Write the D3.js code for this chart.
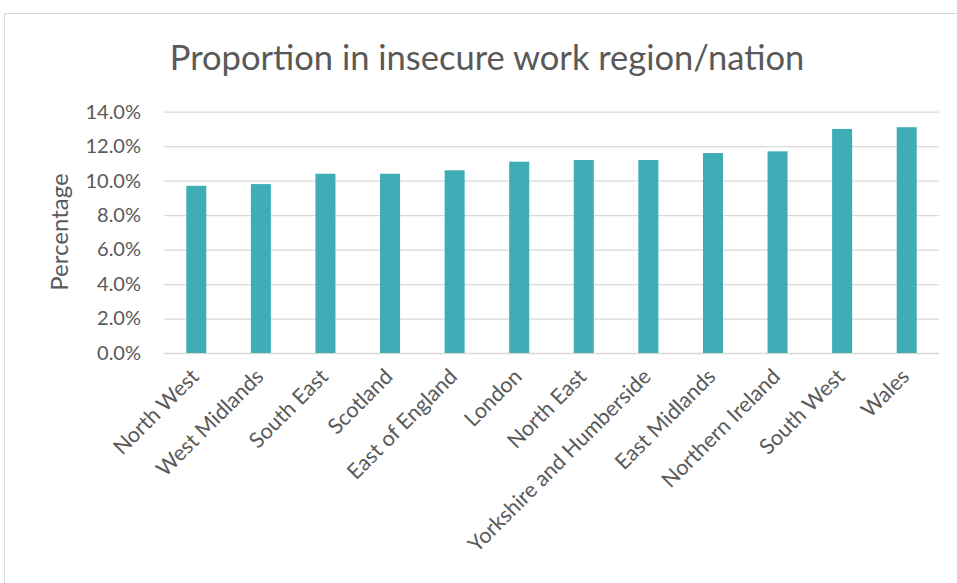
<!DOCTYPE html>
<html>
<head>
<meta charset="utf-8">
<script src="https://cdn.jsdelivr.net/npm/d3@7"></script>
<style>
  body { margin: 0; background: #fff; }
  text { font-family: Lato, "Open Sans", sans-serif; fill: #595959; }
</style>
</head>
<body>
<svg id="chart" width="957" height="583"></svg>
<script>
// data
var regions = ["North West", "West Midlands", "South East", "Scotland", "East of England",
  "London", "North East", "Yorkshire and Humberside", "East Midlands",
  "Northern Ireland", "South West", "Wales"];
var shares = [0.097, 0.098, 0.104, 0.104, 0.106, 0.111, 0.112, 0.112, 0.116, 0.117, 0.130, 0.131];
var yTicks = [0, 0.02, 0.04, 0.06, 0.08, 0.10, 0.12, 0.14];

var svg = d3.select("#chart");
var plotLeft = 164, plotRight = 939, plotTop = 111.7, plotBottom = 353;

// chart area border (runs off the page right and bottom)
svg.append("rect")
  .attr("x", 4.5).attr("y", 13.5)
  .attr("width", 1000).attr("height", 1000)
  .attr("fill", "none").attr("stroke", "#d9d9d9");

var x = d3.scaleBand().domain(regions).range([plotLeft, plotRight])
  .paddingInner(0.69).paddingOuter(0.345);
var y = d3.scaleLinear().domain([0, 0.14]).range([plotBottom, plotTop]);

// gridlines + y labels
var yAxis = d3.axisLeft(y).tickValues(yTicks).tickSize(-(plotRight - plotLeft))
  .tickFormat(d3.format(".1%")).tickPadding(23);
var gy = svg.append("g").attr("transform", "translate(" + plotLeft + ",0)").call(yAxis);
gy.select(".domain").remove();
gy.selectAll("line").attr("stroke", "#d9d9d9").attr("stroke-width", 1.3);
gy.selectAll("text").style("font-size", "20px").attr("fill", "#595959")
  .style("font-family", "Lato, sans-serif");

svg.selectAll(".bar")
  .data(shares)
  .enter().append("rect")
  .attr("class", "bar")
  .attr("x", function(d, i) { return x(regions[i]); })
  .attr("width", x.bandwidth())
  .attr("y", function(d) { return y(d); })
  .attr("height", function(d) { return y(0) - y(d); })
  .attr("fill", "#3fadb6");

// x labels, rotated
var gx = svg.append("g").attr("transform", "translate(0," + plotBottom + ")")
  .call(d3.axisBottom(x).tickSize(0).tickPadding(0));
gx.select(".domain").remove();
gx.selectAll("text")
  .attr("fill", "#595959")
  .style("font-size", "21.5px").style("font-family", "Lato, sans-serif")
  .attr("text-anchor", "end")
  .attr("dy", null).attr("y", 0)
  .attr("transform", "translate(4,25) rotate(-45)");

svg.append("text")
  .attr("x", 487).attr("y", 70)
  .attr("text-anchor", "middle")
  .style("font-size", "34.5px")
  .text("Proportion in insecure work region/nation");

svg.append("text")
  .attr("transform", "translate(68,232) rotate(-90)")
  .attr("text-anchor", "middle")
  .style("font-size", "24px")
  .text("Percentage");
</script>
</body>
</html>
